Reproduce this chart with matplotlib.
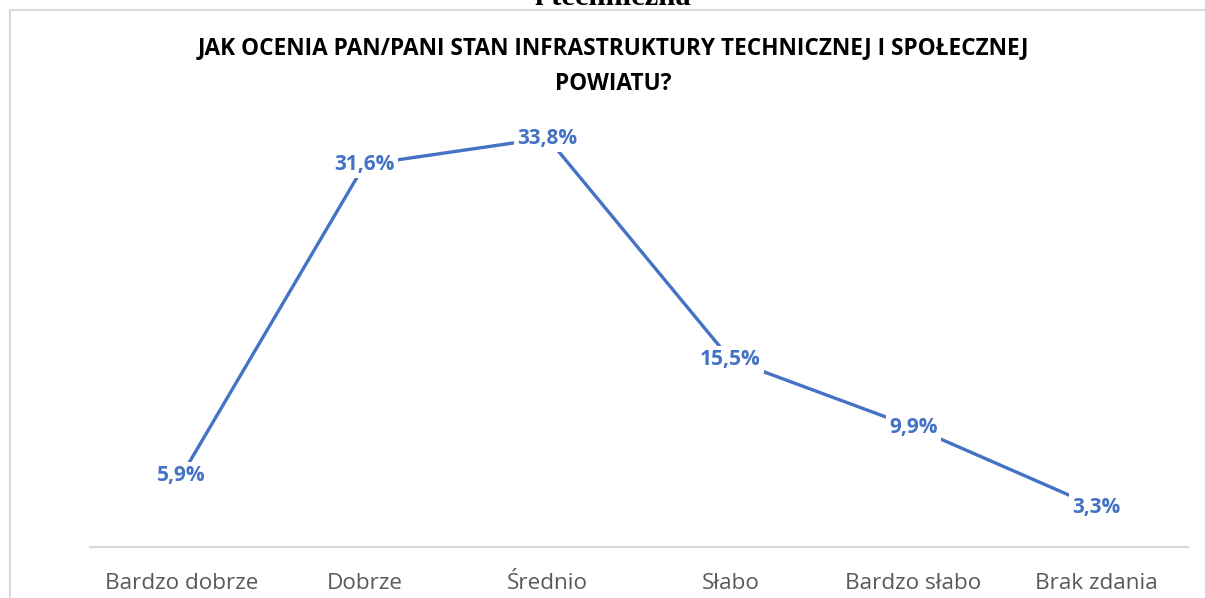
import matplotlib.pyplot as plt
from matplotlib.patches import Rectangle

categories = ['Bardzo dobrze', 'Dobrze', 'Średnio', 'Słabo', 'Bardzo słabo', 'Brak zdania']
values = [5.9, 31.6, 33.8, 15.5, 9.9, 3.3]
labels = ['5,9%', '31,6%', '33,8%', '15,5%', '9,9%', '3,3%']

blue = '#4472C4'
W, H = 1205, 598

fig = plt.figure(figsize=(W / 100, H / 100), dpi=100)

# outer chart frame (light gray), cut off at right and bottom
fig.patches.append(Rectangle((10 / W, -0.1), 1.2, 1 - 10 / H + 0.1,
                             transform=fig.transFigure, fill=False,
                             edgecolor='#D9D9D9', linewidth=1.5))

# section text from the page above, mostly cut off
fig.text(613 / W, 1 - 5 / H, 'i techniczna', ha='center', va='baseline',
         family='Liberation Serif', fontweight='bold', fontsize=22)

fig.text(613 / W, 1 - 48 / H, 'JAK OCENIA PAN/PANI STAN INFRASTRUKTURY TECHNICZNEJ I SPOŁECZNEJ',
         ha='center', va='center', family='Open Sans', fontweight='bold',
         fontsize=16.3, color='black')
fig.text(613 / W, 1 - 84 / H, 'POWIATU?', ha='center', va='center',
         family='Open Sans', fontweight='bold', fontsize=16.3, color='black')

ax = fig.add_axes([90 / W, 1 - 547 / H, 1098 / W, (547 - 63) / H])
x = range(len(categories))
ax.plot(x, values, color=blue, linewidth=2.4, solid_capstyle='round')
ax.set_xlim(-0.5, len(categories) - 0.5)
ax.set_ylim(0, 40)

for xi, v, lab in zip(x, values, labels):
    ax.text(xi, v, lab, ha='center', va='center', color=blue,
            family='Open Sans', fontweight='bold', fontsize=15,
            bbox=dict(boxstyle='square,pad=0.15', facecolor='white', edgecolor='none'))

for s in ['left', 'right', 'top']:
    ax.spines[s].set_visible(False)
ax.spines['bottom'].set_color('#D9D9D9')
ax.spines['bottom'].set_linewidth(1.5)
ax.set_yticks([])
ax.set_xticks(list(x))
ax.set_xticklabels(categories, family='Open Sans', fontsize=16.2, color='#595959')
ax.tick_params(axis='x', length=0, pad=19)

fig.savefig('out.png', dpi=100)
